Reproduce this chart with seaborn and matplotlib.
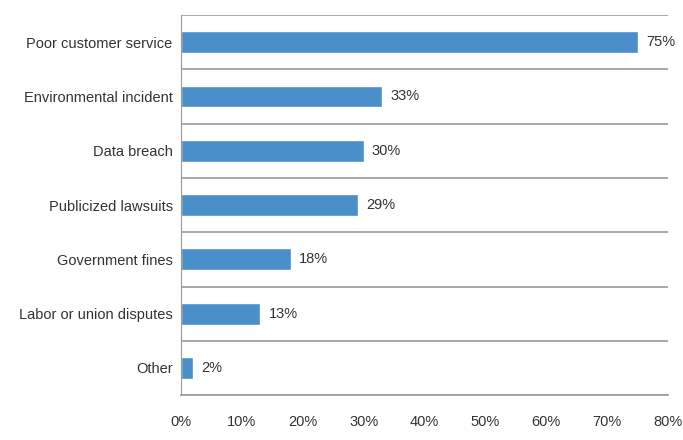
import numpy as np
import pandas as pd
import matplotlib
matplotlib.use('Agg')
import matplotlib.pyplot as plt
import seaborn as sns
from matplotlib.ticker import FixedLocator, PercentFormatter

categories = ['Poor customer service', 'Environmental incident', 'Data breach',
              'Publicized lawsuits', 'Government fines', 'Labor or union disputes', 'Other']
values = [75, 33, 30, 29, 18, 13, 2]
x_ticks = [0, 10, 20, 30, 40, 50, 60, 70, 80]

df = pd.DataFrame({'reason': categories, 'pct': values})

sns.set_style('white')
plt.rcParams['font.family'] = ['Liberation Sans', 'DejaVu Sans']

fig = plt.figure(figsize=(6.83, 4.40), dpi=100)
ax = fig.add_axes([0.265, 0.102, 0.713, 0.864])

sns.barplot(data=df, x='pct', y='reason', orient='h', color='#4a8fca',
            saturation=1, width=0.4, ax=ax)

ax.bar_label(ax.containers[0], fmt='%d%%', padding=6, fontsize=10.5, color='#333333')

ax.set_xlim(0, 80)
ax.set_ylim(len(categories) - 0.5, -0.5)
ax.set_xticks(x_ticks)
ax.xaxis.set_major_formatter(PercentFormatter(decimals=0))
ax.yaxis.set_minor_locator(FixedLocator(np.arange(-0.5, len(categories), 1.0)))
ax.grid(True, axis='y', which='minor', color='#9a9a9a', linewidth=1.2)
ax.grid(False, axis='y', which='major')
ax.tick_params(axis='y', which='both', length=0, labelsize=10.5, labelcolor='#333333', pad=6)
ax.tick_params(axis='x', length=4, width=1, color='#9a9a9a', labelsize=10.5,
               labelcolor='#333333', pad=10, direction='out')
ax.set_xlabel('')
ax.set_ylabel('')

for s in ['top', 'right']:
    ax.spines[s].set_visible(False)
ax.spines['left'].set_color('#9a9a9a')
ax.spines['bottom'].set_color('#9a9a9a')
ax.spines['bottom'].set_linewidth(1.2)

fig.savefig('out.png', dpi=100)
